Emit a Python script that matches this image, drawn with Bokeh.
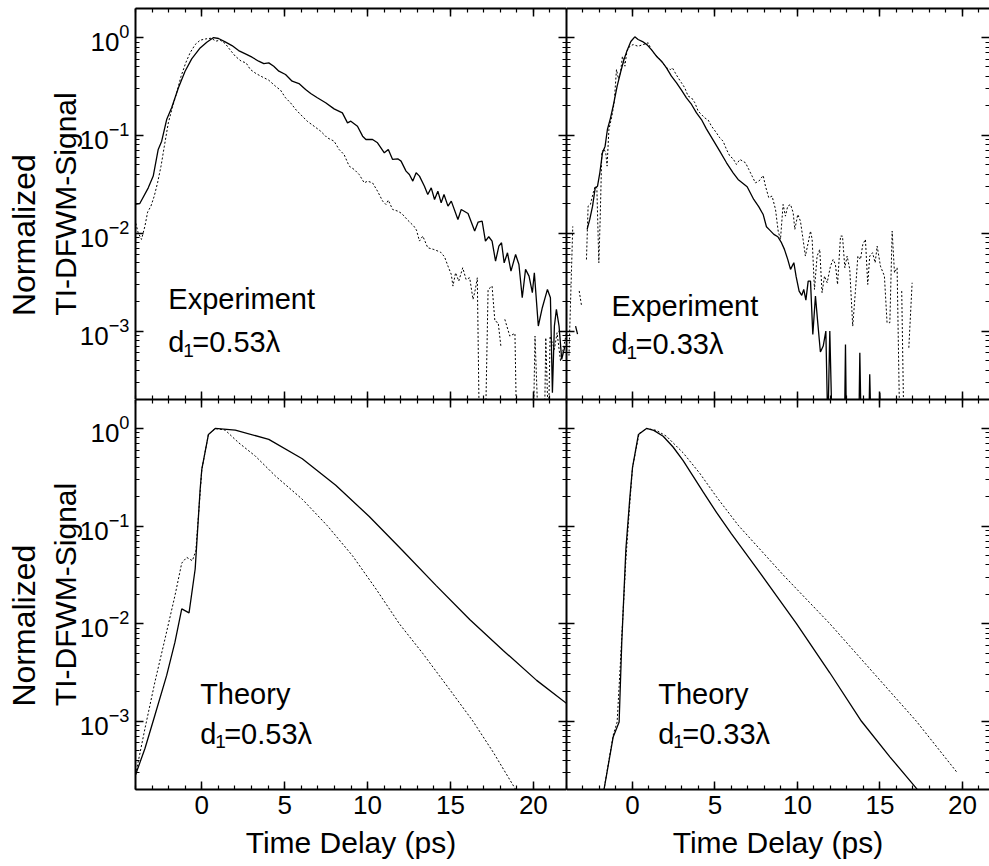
import numpy as np
from bokeh.plotting import figure
from bokeh.layouts import column, row
from bokeh.models import (LinearAxis, LogAxis, SingleIntervalTicker, LogTicker, FixedTicker,
                          Label, Range1d, CustomJSTickFormatter, CustomLabelingPolicy)
from bokeh.embed import file_html
from bokeh.resources import INLINE

# ---------------- data (time delay in ps, log10 of normalized signal) ----------------
# None = gap in the trace; -4.0 = signal below the plotted range
# Top-left: experiment, d1 = 0.53 lambda
tl_solid_t = [-4.04, -3.74, -3.23, -2.93, -2.63, -2.42, -2.12, -1.82, -1.41, -1.01,
              -0.61, -0.10, 0.30, 0.71, 1.01, 1.41, 1.82, 2.22, 2.63, 3.03,
              3.43, 3.74, 4.04, 4.34, 4.65, 5.05, 5.45, 5.86, 6.26, 6.57,
              6.97, 7.47, 7.98, 8.48, 8.79, 8.99, 9.39, 9.70, 9.90, 10.30,
              10.60, 11.01, 11.25, 11.51, 11.82, 12.02, 12.32, 12.52, 12.73, 12.93,
              13.13, 13.43, 13.63, 13.84, 14.04, 14.24, 14.44, 14.61, 14.85, 15.05,
              15.45, 15.65, 16.06, 16.46, 16.67, 16.91, 17.11, 17.31, 17.51, 17.72,
              17.92, 18.08, 18.24, 18.44, 18.65, 18.93, 19.13, 19.33, 19.53, 19.74,
              19.94, 20.06, 20.30, 20.54, 20.85, 21.03, 21.15, 21.27, 21.39, 21.55,
              21.71, 21.91]
tl_solid_log = [-1.706, -1.696, -1.536, -1.416, -1.144, -1.059, -0.838, -0.718, -0.514, -0.344,
                -0.218, -0.106, -0.048, 0.0, -0.010, -0.044, -0.082, -0.133, -0.167, -0.201,
                -0.242, -0.266, -0.259, -0.293, -0.344, -0.378, -0.446, -0.470, -0.531, -0.572,
                -0.616, -0.667, -0.729, -0.770, -0.872, -0.855, -0.906, -1.008, -1.042, -1.042,
                -1.076, -1.178, -1.144, -1.246, -1.239, -1.263, -1.365, -1.399, -1.467, -1.382,
                -1.416, -1.519, -1.604, -1.536, -1.655, -1.570, -1.689, -1.604, -1.723, -1.672,
                -1.859, -1.757, -1.798, -1.978, -1.886, -1.876, -2.080, -2.036, -2.080, -2.285,
                -2.131, -2.097, -2.302, -2.200, -2.387, -2.217, -2.319, -2.659, -2.369, -2.438,
                -2.608, -2.404, -2.948, -2.761, -2.574, -2.659, -3.630, -2.948, -2.778, -2.948,
                -3.289, -3.153]
tl_dot_t = [-4.04, -3.84, -3.64, -3.43, -3.27, -3.07, -2.87, -2.67, -2.46, -2.26,
            -2.02, -1.78, -1.52, -1.25, -0.97, -0.71, -0.40, -0.10, 0.24, 0.57,
            0.85, 1.11, 1.41, 1.72, 2.02, 2.38, 2.67, 2.93, 3.27, 3.64,
            4.04, 4.44, 4.75, 5.05, 5.35, 5.70, 6.06, 6.36, 6.77, 7.17,
            7.57, 7.98, 8.28, 8.58, 8.89, 9.19, 9.49, 9.80, 10.00, 10.30,
            10.60, 10.91, 11.11, 11.25, 11.51, 11.82, 12.06, 12.42, 12.79, 12.95,
            13.13, 13.33, 13.63, 14.00, 14.40, 14.64, 14.85, 15.05, 15.15, 15.31,
            15.50, 15.74, 15.94, 16.16, 16.36, 16.50, 16.62, 16.74, 17.11, 17.27,
            17.51, 17.68, 17.88, 18.04, 18.16, 18.28, 18.58, 18.89, 18.99, 20.00,
            20.10, 20.30, 20.67, 20.75, 20.91, 21.01, 21.27, 21.43, 21.64, 21.84,
            22.08]
tl_dot_log = [-1.859, -1.995, -2.063, -1.927, -1.784, -1.723, -1.621, -1.485, -1.314, -1.110,
              -0.872, -0.718, -0.565, -0.395, -0.259, -0.157, -0.072, -0.027, -0.014, -0.007,
              -0.037, -0.027, -0.061, -0.129, -0.191, -0.242, -0.259, -0.327, -0.368, -0.402,
              -0.436, -0.497, -0.538, -0.616, -0.667, -0.742, -0.804, -0.855, -0.906, -0.957,
              -1.025, -1.059, -1.144, -1.195, -1.314, -1.348, -1.399, -1.485, -1.468, -1.485,
              -1.570, -1.672, -1.706, -1.662, -1.757, -1.774, -1.798, -1.866, -1.927, -1.968,
              -2.080, -2.029, -2.148, -2.166, -2.193, -2.240, -2.336, -2.421, -2.540, -2.404,
              -2.489, -2.353, -2.472, -2.455, -2.676, -2.574, -2.455, -4.0, -4.0, -2.574,
              -2.540, -2.898, -2.914, -3.153, None, -2.880, -3.051, -3.023, -4.0, -4.0,
              -3.051, -4.0, -4.0, -3.068, -4.0, -3.051, -3.187, -3.017, -3.306, -3.153,
              -2.948]

# Top-right: experiment, d1 = 0.33 lambda
tr_solid_t = [-3.45, -3.33, -3.20,
              -2.75, -2.59, -2.42, -2.26, -2.12, -1.98, -1.82, -1.66, -1.52, -1.33,
              -1.13, -0.93, -0.73, -0.53, -0.32, -0.10, 0.14, 0.34, 0.61, 0.89,
              1.17, 1.45, 1.76, 2.06, 2.36, 2.67, 2.97, 3.27, 3.58, 3.88,
              4.18, 4.48, 4.89, 5.29, 5.70, 6.10, 6.40, 6.95, 7.35, 7.66,
              7.92, 8.12, 8.32, 8.57, 8.81, 9.01, 9.21, 9.41, 9.58, 9.78,
              9.92, 10.10, 10.26, 10.38, 10.51, 10.65, 10.79, 10.93, 11.09, 11.23,
              11.39, 11.56, 11.72, 11.84, 11.96, 12.10, 12.85, 12.91, 12.97, 13.72,
              13.78, 13.86, 14.32, 14.38, 14.46, 14.95, 14.99, 15.07]
tr_solid_log = [-2.95, -3.03, None,
                -1.961, -1.859, -1.723, -1.536, -1.519, -1.382, -1.178, -1.110, -0.940, -0.821,
                -0.667, -0.497, -0.361, -0.232, -0.129, -0.041, 0.007, -0.020, -0.041, -0.075,
                -0.129, -0.191, -0.242, -0.310, -0.395, -0.463, -0.538, -0.616, -0.684, -0.770,
                -0.838, -0.933, -1.049, -1.161, -1.280, -1.382, -1.450, -1.525, -1.655, -1.730,
                -1.808, -1.934, -1.968, -2.012, -2.036, -2.090, -2.165, -2.267, -2.369, -2.301,
                -2.444, -2.591, -2.635, -2.574, -2.683, -2.489, -2.489, -3.034, -2.642, -2.914,
                -3.214, -3.153, -3.000, -4.0, -3.000, -4.0, -4.0, -3.136, -4.0, -4.0,
                -3.221, -4.0, -4.0, -3.442, -4.0, -4.0, -3.630, -4.0]
tr_dot_t = [-3.85, -3.62, -3.58, -3.23, -3.09, -3.00,
            -2.79, -2.69, -2.55, -2.38, -2.26, -2.16, -2.04, -1.96, -1.86, -1.74,
            -1.62, -1.54, -1.43, -1.25, -1.11, -0.97, -0.85, -0.73, -0.61, -0.46,
            -0.34, -0.16, 0.04, 0.34, 0.65, 0.95, 1.09, 1.29, 1.56, 1.82,
            2.06, 2.30, 2.42, 2.59, 2.77, 2.97, 3.17, 3.37, 3.58, 3.78,
            3.98, 4.18, 4.38, 4.59, 4.79, 5.09, 5.29, 5.49, 5.70, 5.90,
            6.10, 6.30, 6.51, 6.85, 7.05, 7.25, 7.45, 7.66, 7.92, 8.06,
            8.26, 8.46, 8.67, 8.83, 8.97, 9.13, 9.27, 9.41, 9.58, 9.74,
            9.84, 10.02, 10.18, 10.34, 10.48, 10.65, 10.79, 10.89, 11.03, 11.19,
            11.35, 11.49, 11.64, 11.80, 12.00, 12.16, 12.30, 12.43, 12.61, 12.73,
            12.87, 13.01, 13.17, 13.35, 13.52, 13.66, 13.82, 13.96, 14.12, 14.26,
            14.38, 14.55, 14.71, 14.83, 15.03, 15.27, 15.43, 15.60, 15.74, 15.88,
            16.04, 16.20, 16.27, 16.32, 16.45, 16.60, 16.75, 16.95]
tr_dot_log = [-3.25, -1.93, None, -2.59, -2.74, None,
              -2.268, -1.723, -1.706, -1.587, -1.519, -1.536, -2.302, -1.859, -1.178, -1.137,
              -1.178, -1.314, -0.940, -0.804, -0.667, -0.327, -0.422, -0.361, -0.191, -0.293,
              -0.140, -0.089, -0.072, -0.089, -0.072, -0.054, -0.106, -0.157, -0.208, -0.259,
              -0.310, -0.327, -0.310, -0.361, -0.412, -0.463, -0.514, -0.599, -0.616, -0.667,
              -0.752, -0.787, -0.821, -0.844, -0.906, -0.974, -1.025, -1.059, -1.144, -1.212,
              -1.239, -1.297, -1.246, -1.280, -1.348, -1.416, -1.485, -1.468, -1.410, -1.519,
              -1.637, -1.620, -1.757, -1.978, -2.063, -1.706, -1.825, -1.723, -1.706, -1.791,
              -1.961, -1.808, -1.876, -2.063, -2.233, -2.097, -1.978, -2.063, -2.574, -2.233,
              -2.165, -2.608, -2.438, -2.506, -2.336, -2.268, -2.318, -2.523, -2.029, -2.029,
              -2.353, -2.233, -2.370, -2.949, -2.574, -2.233, -2.268, -2.114, -2.063, -2.523,
              -2.233, -2.199, -2.301, -2.131, -2.336, -2.438, -2.914, -2.914, -1.978, -2.404,
              -2.353, -4.0, None, -2.591, -4.0, None, -3.170, -2.506]

# Bottom-left: theory, d1 = 0.53 lambda
bl_solid_t = [-4.04, -3.43, -2.83, -2.12, -1.62, -1.21, -0.77, -0.40, -0.10, 0.0,
              0.40, 0.81, 2.02, 4.04, 6.06, 8.08, 10.10, 12.12, 14.14, 16.16,
              18.18, 20.20, 22.02]
bl_solid_log = [-3.568, -3.279, -2.938, -2.530, -2.190, -1.849, -1.890, -1.440, -0.623, -0.419,
                -0.061, 0.0, -0.017, -0.112, -0.310, -0.582, -0.902, -1.253, -1.610, -1.958,
                -2.274, -2.581, -2.819]
bl_dot_t = [-4.04, -3.43, -2.83, -2.22, -1.62, -1.21, -0.91, -0.57, -0.36, -0.10,
            0.0, 0.40, 0.81, 1.41, 2.22, 3.23, 4.44, 6.06, 7.58, 9.09,
            10.51, 11.92, 13.33, 14.95, 16.36, 17.58, 18.89, 19.19]
bl_dot_log = [-3.585, -3.075, -2.598, -2.155, -1.713, -1.379, -1.321, -1.355, -1.253, -0.657,
              -0.419, -0.061, 0.0, -0.017, -0.146, -0.283, -0.487, -0.725, -0.998, -1.304,
              -1.645, -2.002, -2.305, -2.674, -3.000, -3.317, -3.687, -3.773]

# Bottom-right: theory, d1 = 0.33 lambda
br_solid_t = [-1.82, -1.17, -0.81, -0.65, -0.40, -0.16, 0.0, 0.36, 0.85, 1.29,
              1.86, 2.46, 3.07, 3.68, 4.28, 5.09, 6.00, 7.52, 9.94, 11.96,
              13.88, 15.60, 17.21, 17.50]
br_solid_log = [-3.79, -3.160, -3.007, -2.189, -1.236, -0.708, -0.402, -0.061, 0.0, -0.020,
                -0.080, -0.190, -0.330, -0.490, -0.650, -0.860, -1.080, -1.430, -2.000, -2.503,
                -3.000, -3.364, -3.687, -3.755]
br_dot_t = [-1.82, -1.17, -0.93, -0.73, -0.40, -0.16, 0.0, 0.40, 0.85, 1.45,
            2.06, 3.07, 4.08, 5.09, 6.40, 9.13, 11.96, 14.59, 17.21, 19.64]
br_dot_log = [-3.79, -3.143, -3.007, -2.394, -1.338, -0.759, -0.402, -0.051, 0.0, -0.020,
              -0.080, -0.250, -0.460, -0.700, -0.990, -1.500, -2.000, -2.501, -3.000, -3.517]

x_major_interval = 5
y_label_outer = "Normalized"
y_label_inner = "TI-DFWM-Signal"
x_label = "Time Delay (ps)"

FONT = "Liberation Sans"

NO_LABELS = CustomJSTickFormatter(code="return ''")
HIDE_ALL = CustomLabelingPolicy(
    code="for (const i of Array.from(indices)) { indices.unset(i) }")


def sig(logs):
    return np.array([np.nan if v is None else 10.0 ** v for v in logs], dtype=float)


def style_axis(ax, labels):
    ax.major_tick_in = 8
    ax.major_tick_out = 0
    ax.minor_tick_in = 4
    ax.minor_tick_out = 0
    ax.axis_line_width = 2
    ax.axis_line_color = "black"
    ax.major_tick_line_width = 1.5
    ax.minor_tick_line_width = 1.2
    ax.major_tick_line_color = "black"
    ax.minor_tick_line_color = "black"
    if labels:
        ax.major_label_text_font = FONT
        ax.major_label_text_font_size = "26px"
        ax.major_label_text_color = "black"
        ax.major_label_standoff = 6
    else:
        ax.formatter = NO_LABELS
        ax.major_label_policy = HIDE_ALL
        ax.major_label_text_font_size = "0px"
        ax.major_label_standoff = 0


def panel(fw, fh, x_end, left_b, top_b, bottom_b, ylabels, xlabels, right_line=True):
    p = figure(frame_width=fw, frame_height=fh,
               x_range=Range1d(-4, x_end), y_range=Range1d(2.0e-4, 1.98),
               y_axis_type="log", output_backend="svg", toolbar_location=None,
               min_border_left=left_b, min_border_right=0,
               min_border_top=top_b, min_border_bottom=bottom_b,
               outline_line_color=None, background_fill_color="white",
               border_fill_color="white")
    p.xgrid.visible = False
    p.ygrid.visible = False
    xa = p.xaxis[0]
    xa.ticker = SingleIntervalTicker(interval=x_major_interval, num_minor_ticks=5)
    style_axis(xa, xlabels)
    ya = p.yaxis[0]
    ya.ticker = LogTicker(num_minor_ticks=10)
    style_axis(ya, ylabels)
    if xlabels:
        xa.axis_label = x_label
        xa.axis_label_text_font = FONT
        xa.axis_label_text_font_size = "30px"
        xa.axis_label_text_font_style = "normal"
        xa.axis_label_text_color = "black"
        xa.axis_label_standoff = 9
    if ylabels:
        ya.axis_label = y_label_inner
        ya.axis_label_text_font = FONT
        ya.axis_label_text_font_size = "30px"
        ya.axis_label_text_font_style = "normal"
        ya.axis_label_text_color = "black"
        ya.axis_label_standoff = -5
        outer = LinearAxis(ticker=FixedTicker(ticks=[], minor_ticks=[]),
                           axis_line_color=None, major_tick_line_color=None,
                           minor_tick_line_color=None,
                           axis_label=y_label_outer + " " * 7, axis_label_text_font=FONT,
                           axis_label_text_font_size="32px",
                           axis_label_text_font_style="normal",
                           axis_label_text_color="black", axis_label_standoff=4)
        p.add_layout(outer, "left")
    top = LinearAxis(ticker=SingleIntervalTicker(interval=x_major_interval, num_minor_ticks=5))
    style_axis(top, False)
    p.add_layout(top, "above")
    right = LogAxis(ticker=LogTicker(num_minor_ticks=10))
    style_axis(right, False)
    if not right_line:
        right.axis_line_color = None
    p.add_layout(right, "right")
    return p


def curves(p, st, sl, dt, dl):
    p.line(st, sig(sl), line_color="black", line_width=1.3)
    p.line(dt, sig(dl), line_color="black", line_width=1.0, line_dash="2 2")


def annotate(p, x, y1, y2, word, dval):
    kw = dict(text_font=FONT, text_color="black", text_baseline="alphabetic")
    p.add_layout(Label(x=x, y=10 ** y1, text=word, text_font_size="29px", **kw))
    p.add_layout(Label(x=x, y=10 ** y2, text="d", text_font_size="29px", **kw))
    p.add_layout(Label(x=x, y=10 ** y2, x_offset=15, y_offset=-8, text="1",
                       text_font_size="19px", **kw))
    p.add_layout(Label(x=x, y=10 ** y2, x_offset=24, text="=" + dval + "\u03bb",
                       text_font_size="29px", **kw))


LW, RW = 431, 423
TH, BH = 391, 390
LEFT_B = 135
tl = panel(LW, TH, 22.0, LEFT_B, 8, 0, True, False)
tr = panel(RW, TH, 21.64, 0, 8, 0, False, False, right_line=False)
bl = panel(LW, BH, 22.0, LEFT_B, 0, 70, True, True)
br = panel(RW, BH, 21.64, 0, 0, 70, False, True, right_line=False)

curves(tl, tl_solid_t, tl_solid_log, tl_dot_t, tl_dot_log)
curves(tr, tr_solid_t, tr_solid_log, tr_dot_t, tr_dot_log)
curves(bl, bl_solid_t, bl_solid_log, bl_dot_t, bl_dot_log)
curves(br, br_solid_t, br_solid_log, br_dot_t, br_dot_log)

annotate(tl, -2.02, -2.677, -3.115, "Experiment", "0.53")
annotate(tr, -1.27, -2.745, -3.136, "Experiment", "0.33")
annotate(bl, -0.10, -2.717, -3.126, "Theory", "0.53")
annotate(br, 1.56, -2.717, -3.126, "Theory", "0.33")

layout = column(row(tl, tr), row(bl, br))
open("out.html", "w").write(file_html(layout, INLINE, title="TI-DFWM"))
